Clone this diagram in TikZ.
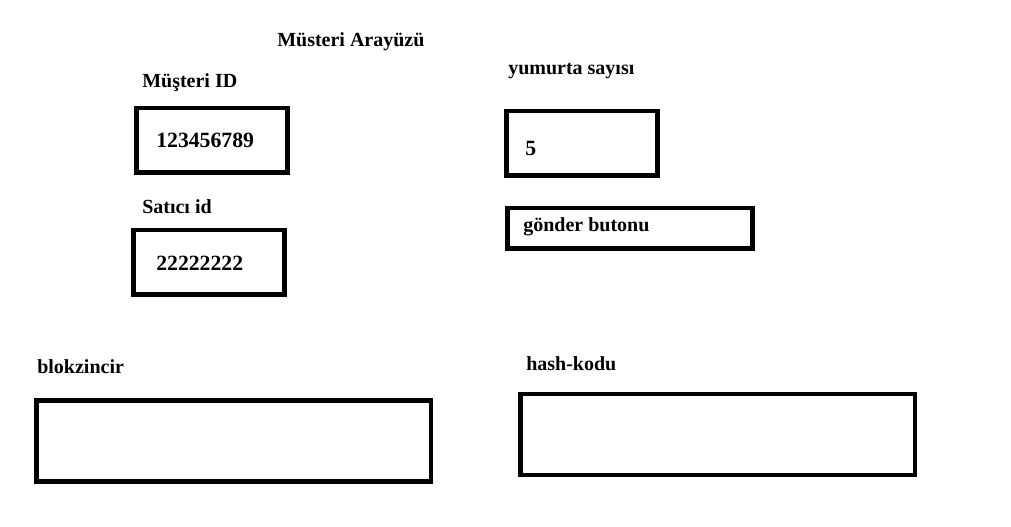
\documentclass[tikz,border=0pt]{standalone}
\usepackage{fontspec}
\setmainfont{Liberation Serif}
\begin{document}
\begin{tikzpicture}[x=0.75pt,y=-0.75pt,
  box/.style={draw=black,line width=3.4pt,inner sep=0pt,outer sep=0pt,fill=none},
  lbl/.style={anchor=base west,inner sep=0pt,font=\fontsize{15pt}{18pt}\selectfont\bfseries},
  val/.style={anchor=base west,inner sep=0pt,font=\fontsize{16.3pt}{19pt}\selectfont\bfseries}]
\useasboundingbox (0,0) rectangle (1011,527);
\fill[white] (0,0) rectangle (1011,527);
% boxes
\node[box,minimum width=113.6pt,minimum height=48.4pt] (b1) at (212,140.5) {};
\node[box,minimum width=113.6pt,minimum height=48.4pt] (b2) at (209,262.5) {};
\node[box,minimum width=113.6pt,minimum height=48.4pt] (b3) at (582,143.5) {};
\node[box,minimum width=184.1pt,minimum height=30.4pt] (b4) at (630,228.5) {};
\node[box,minimum width=295.9pt,minimum height=61.1pt] (b5) at (233.5,441) {};
\node[box,minimum width=295.9pt,minimum height=60.4pt] (b6) at (717.5,434.5) {};
% texts
\node[lbl] (title) at (277,47) {Müsteri Arayüzü};
\node[lbl] (l1) at (142,88) {Müşteri ID};
\node[val] (v1) at (156,148) {123456789};
\node[lbl] (l2) at (142,214) {Satıcı id};
\node[val] (v2) at (156,271) {22222222};
\node[lbl] (l3) at (508,75) {yumurta sayısı};
\node[val] (v3) at (525,156) {5};
\node[lbl] (v4) at (523,232) {gönder butonu};
\node[lbl] (l5) at (37,374) {blokzincir};
\node[lbl] (l6) at (526,371) {hash-kodu};
\end{tikzpicture}
\end{document}
